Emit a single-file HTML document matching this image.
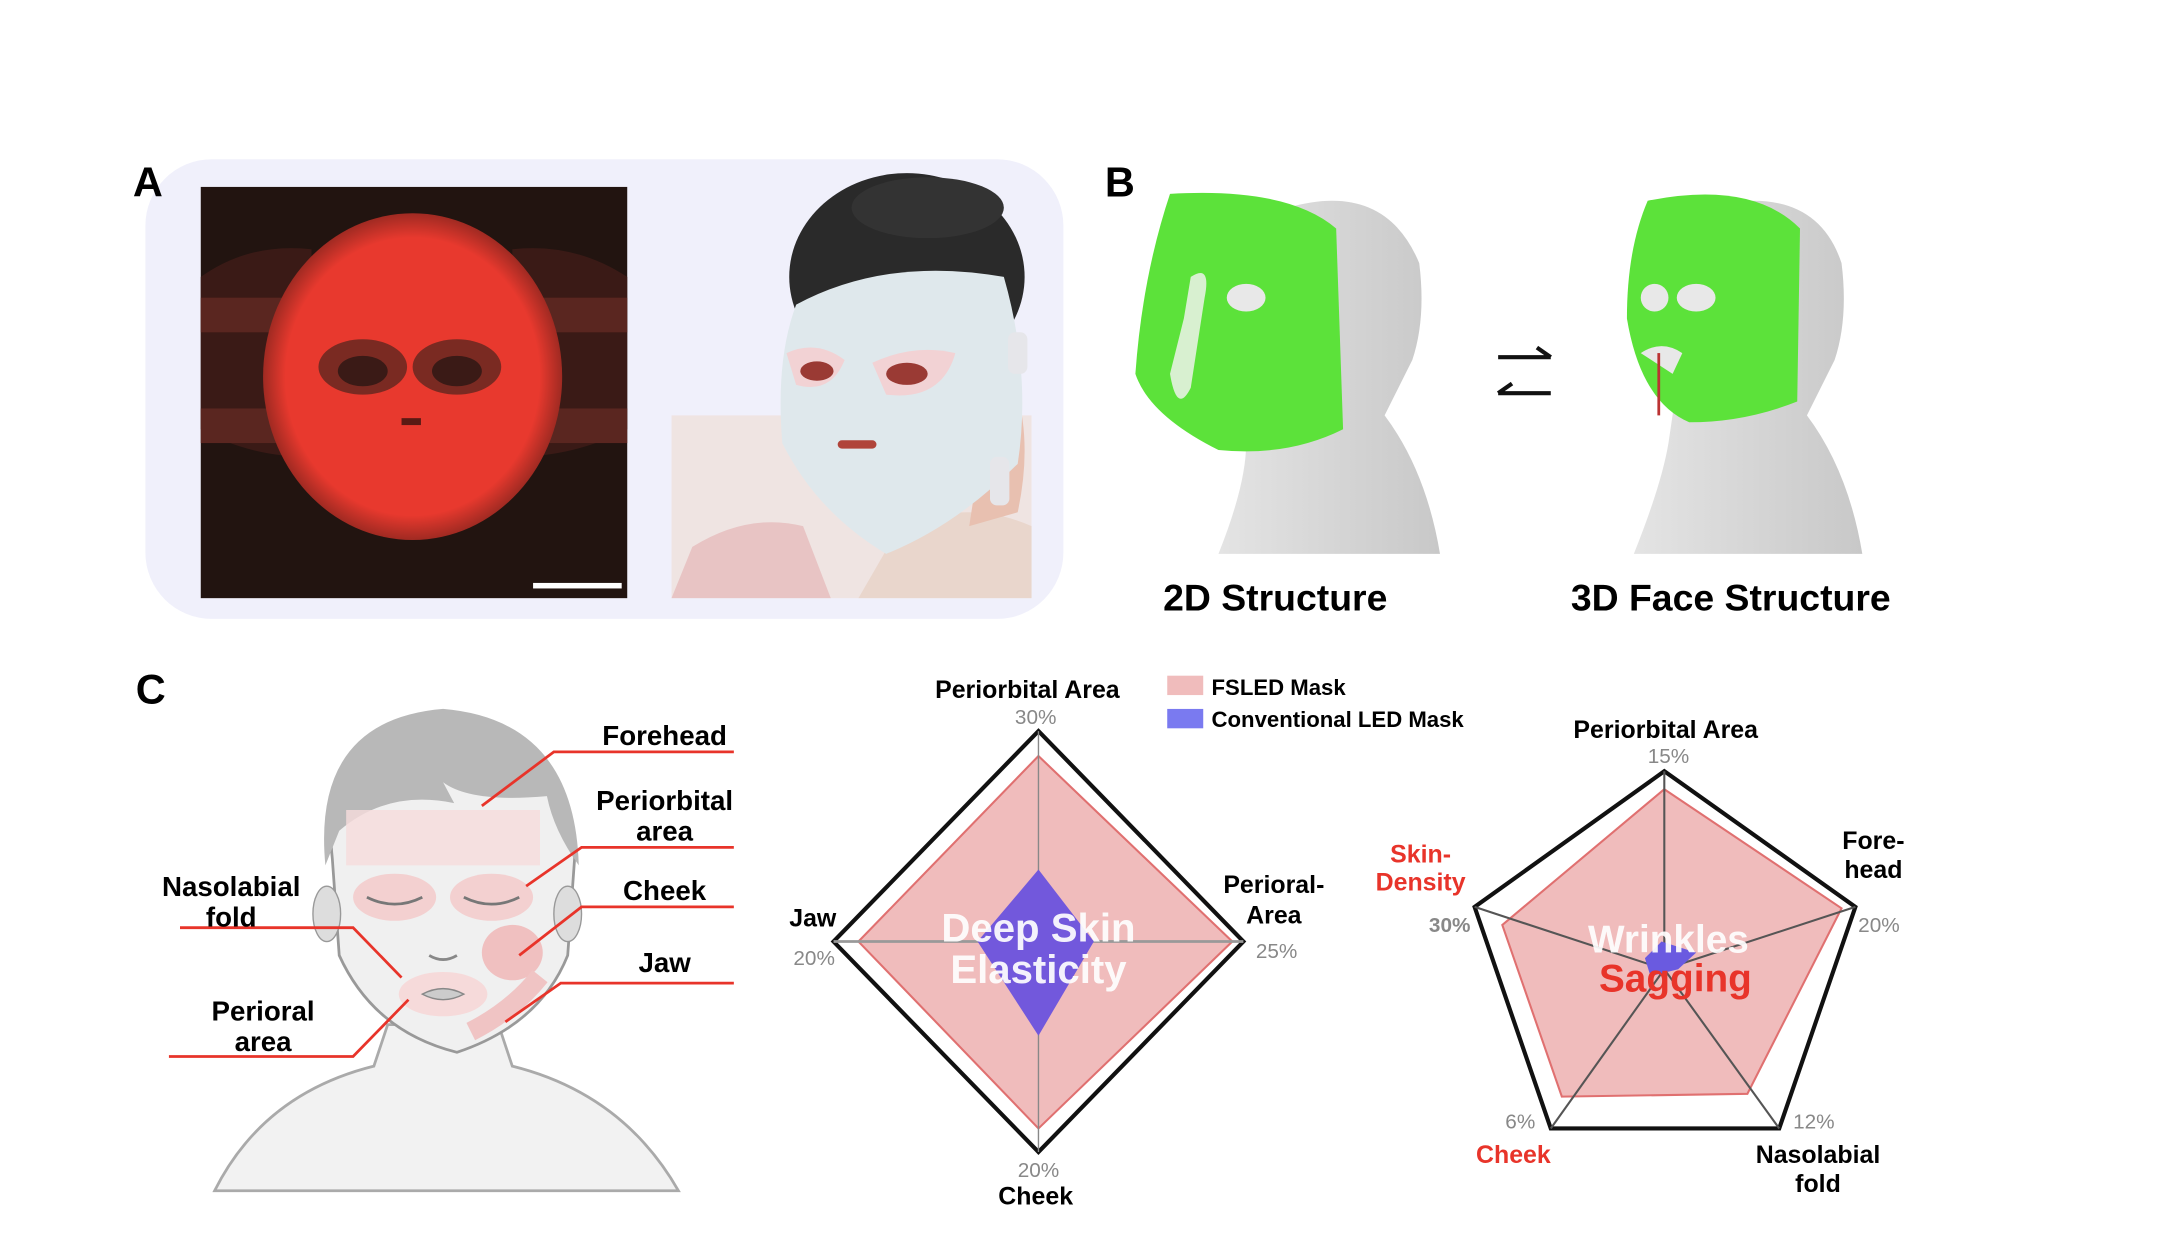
<!DOCTYPE html>
<html><head><meta charset="utf-8"><style>
html,body{margin:0;padding:0;background:#fff;width:2170px;height:1260px;overflow:hidden}
svg{display:block}
text{font-family:"Liberation Sans",sans-serif;font-weight:bold}
</style></head><body>
<svg width="2170" height="1260" viewBox="0 0 1567 910" preserveAspectRatio="xMinYMin meet" xmlns="http://www.w3.org/2000/svg">
<defs>
<radialGradient id="glow" cx="50%" cy="50%" r="50%"><stop offset="0.85" stop-color="#e8392e"/><stop offset="1" stop-color="#a02a22"/></radialGradient>
<linearGradient id="hd" x1="0" y1="0" x2="1" y2="0"><stop offset="0" stop-color="#e4e4e4"/><stop offset="1" stop-color="#c8c8c8"/></linearGradient>
</defs>
<!-- Panel A -->
<rect x="105" y="115" width="663" height="332" rx="48" fill="#f0f0fb"/>
<text x="96" y="142" font-size="30">A</text>
<rect x="145" y="135" width="308" height="297" fill="#221410"/>
<path d="M145 200 Q180 175 225 180 L225 330 Q180 330 145 310Z" fill="#3a1a16"/>
<path d="M453 200 Q415 175 370 180 L370 330 Q415 330 453 310Z" fill="#3a1a16"/>
<rect x="145" y="215" width="80" height="25" fill="#5a2620"/>
<rect x="370" y="215" width="83" height="25" fill="#5a2620"/>
<rect x="145" y="295" width="80" height="25" fill="#5a2620"/>
<rect x="370" y="295" width="83" height="25" fill="#5a2620"/>
<ellipse cx="298" cy="272" rx="108" ry="118" fill="url(#glow)"/>
<ellipse cx="262" cy="265" rx="32" ry="20" fill="#7a2a22"/>
<ellipse cx="330" cy="265" rx="32" ry="20" fill="#7a2a22"/>
<ellipse cx="262" cy="268" rx="18" ry="11" fill="#3a1a16"/>
<ellipse cx="330" cy="268" rx="18" ry="11" fill="#3a1a16"/>
<rect x="290" y="302" width="14" height="5" fill="#5a1a14"/>
<rect x="385" y="421" width="64" height="4" fill="#fff"/>
<!-- woman -->
<rect x="485" y="300" width="260" height="132" fill="#efe4e2"/>
<path d="M485 432 L500 395 Q540 370 580 380 L600 432Z" fill="#e8c4c4"/>
<path d="M650 380 Q700 360 745 380 L745 432 L620 432Z" fill="#e9d6cc"/>
<ellipse cx="655" cy="200" rx="85" ry="75" fill="#2a2a2a"/>
<ellipse cx="670" cy="150" rx="55" ry="22" fill="#333"/>
<path d="M720 250 Q750 300 735 370 L700 380Z" fill="#e8c0b0"/>
<path d="M575 220 Q640 185 725 200 Q745 270 735 335 Q690 380 640 400 Q590 370 565 320 Q560 260 575 220Z" fill="#dfe8ec"/>
<path d="M568 255 Q590 245 610 260 Q600 285 575 278Z" fill="#f2d2d4"/>
<path d="M630 262 Q660 248 690 255 Q680 290 640 285Z" fill="#f2d2d4"/>
<ellipse cx="590" cy="268" rx="12" ry="7" fill="#9a3a34"/>
<ellipse cx="655" cy="270" rx="15" ry="8" fill="#9a3a34"/>
<rect x="605" y="318" width="28" height="6" rx="3" fill="#b0443a"/>
<rect x="728" y="240" width="14" height="30" rx="5" fill="#e6e6ea"/>
<rect x="715" y="330" width="14" height="35" rx="5" fill="#e6e6ea"/>
<!-- Panel B -->
<text x="798" y="142" font-size="30">B</text>
<g>
<path d="M930 150 Q1000 130 1025 190 Q1030 230 1020 260 L1000 300 Q1030 340 1040 400 L880 400 Q900 350 900 320 Z" fill="url(#hd)"/>
<path d="M845 140 Q930 135 965 165 L970 310 Q930 330 880 325 Q830 300 820 270 Q825 200 845 140Z" fill="#5ce23a"/>
<ellipse cx="900" cy="215" rx="14" ry="10" fill="#e8e8e8"/>
<path d="M855 230 L860 200 Q875 190 870 215 L860 280 Q850 300 845 270Z" fill="#d8f0d0"/>
</g>
<g>
<path d="M1230 150 Q1310 130 1330 190 Q1335 230 1325 260 L1305 300 Q1335 340 1345 400 L1180 400 Q1200 350 1205 320 Z" fill="url(#hd)"/>
<path d="M1190 145 Q1265 130 1300 165 L1298 290 Q1260 305 1220 305 Q1185 290 1175 230 Q1175 180 1190 145Z" fill="#5ce23a"/>
<ellipse cx="1225" cy="215" rx="14" ry="10" fill="#e8e8e8"/>
<ellipse cx="1195" cy="215" rx="10" ry="10" fill="#e8e8e8"/>
<path d="M1185 255 Q1200 245 1215 255 L1208 270Z" fill="#e8e8e8"/>
<line x1="1198" y1="255" x2="1198" y2="300" stroke="#b33" stroke-width="2"/>
</g>
<path d="M1082 258 L1120 258 M1110 251 L1120 258" stroke="#111" stroke-width="3" fill="none"/>
<path d="M1082 284 L1120 284 M1092 277 L1082 284" stroke="#111" stroke-width="3" fill="none"/>
<text x="921" y="441" font-size="27" text-anchor="middle">2D Structure</text>
<text x="1250" y="441" font-size="27" text-anchor="middle">3D Face Structure</text>
<!-- Panel C face -->
<text x="98" y="508" font-size="30">C</text>
<path d="M155 860 Q190 790 270 770 L280 740 L360 740 L370 770 Q450 790 490 860Z" fill="#f2f2f2" stroke="#aaa" stroke-width="2"/>
<path d="M240 620 Q230 530 320 515 Q410 520 415 620 L410 690 Q390 740 330 760 Q270 745 245 690Z" fill="#f0f0f0" stroke="#999" stroke-width="2"/>
<path d="M235 625 Q225 520 320 512 Q415 520 418 625 Q400 600 395 575 Q340 580 320 565 L328 580 Q280 570 245 600Z" fill="#b8b8b8"/>
<ellipse cx="236" cy="660" rx="10" ry="20" fill="#ddd" stroke="#999"/>
<ellipse cx="410" cy="660" rx="10" ry="20" fill="#ddd" stroke="#999"/>
<rect x="250" y="585" width="140" height="40" fill="#f6dcdc" opacity="0.8"/>
<ellipse cx="285" cy="648" rx="30" ry="17" fill="#f3d0d0"/>
<ellipse cx="355" cy="648" rx="30" ry="17" fill="#f3d0d0"/>
<path d="M265 648 Q285 658 305 648" stroke="#777" stroke-width="2" fill="none"/>
<path d="M335 648 Q355 658 375 648" stroke="#777" stroke-width="2" fill="none"/>
<ellipse cx="370" cy="688" rx="22" ry="20" fill="#f0c0c0"/>
<ellipse cx="320" cy="718" rx="32" ry="16" fill="#f6dada"/>
<path d="M305 718 Q320 710 335 718 Q320 726 305 718Z" fill="#ccc" stroke="#888"/>
<path d="M310 690 Q320 696 330 690" stroke="#888" stroke-width="2" fill="none"/>
<path d="M340 745 Q370 730 390 705" stroke="#f0c4c4" stroke-width="14" fill="none"/>
<g stroke="#e8342a" stroke-width="2" fill="none">
<path d="M530 543 L400 543 L348 582"/>
<path d="M530 612 L420 612 L380 640"/>
<path d="M530 655 L420 655 L375 690"/>
<path d="M530 710 L405 710 L365 738"/>
<path d="M130 670 L255 670 L290 706"/>
<path d="M122 763 L255 763 L295 722"/>
</g>
<g font-size="20" text-anchor="middle">
<text x="480" y="538">Forehead</text>
<text x="480" y="585">Periorbital</text><text x="480" y="607">area</text>
<text x="480" y="650">Cheek</text>
<text x="480" y="702">Jaw</text>
<text x="167" y="647">Nasolabial</text><text x="167" y="669">fold</text>
<text x="190" y="737">Perioral</text><text x="190" y="759">area</text>
</g>
<!-- Chart 1 -->
<polygon points="750,528 898,680 750,832 602,680" fill="#fff" stroke="#111" stroke-width="3"/>
<polygon points="750,546 890,680 750,815 620,680" fill="#f0bcbc" stroke="#e07070" stroke-width="1.5"/>
<line x1="750" y1="528" x2="750" y2="832" stroke="#888" stroke-width="1"/>
<line x1="602" y1="680" x2="898" y2="680" stroke="#999" stroke-width="2"/>
<polygon points="750,628 790,680 750,748 706,680" fill="#7258dc"/>
<text x="750" y="680" font-size="29" fill="#fff" text-anchor="middle" opacity="0.92">Deep Skin</text>
<text x="750" y="710" font-size="29" fill="#fff" text-anchor="middle" opacity="0.92">Elasticity</text>
<g font-size="18">
<text x="742" y="504" text-anchor="middle">Periorbital Area</text>
<text x="587" y="669" text-anchor="middle">Jaw</text>
<text x="920" y="645" text-anchor="middle">Perioral-</text><text x="920" y="667" text-anchor="middle">Area</text>
<text x="748" y="870" text-anchor="middle">Cheek</text>
</g>
<g font-size="15" fill="#888">
<text x="748" y="523" text-anchor="middle" style="font-weight:normal">30%</text>
<text x="588" y="697" text-anchor="middle" style="font-weight:normal">20%</text>
<text x="922" y="692" text-anchor="middle" style="font-weight:normal">25%</text>
<text x="750" y="850" text-anchor="middle" style="font-weight:normal">20%</text>
</g>
<rect x="843" y="488" width="26" height="14" fill="#f0bcbc"/>
<rect x="843" y="512" width="26" height="14" fill="#7a7af0"/>
<text x="875" y="502" font-size="16">FSLED Mask</text>
<text x="875" y="525" font-size="16">Conventional LED Mask</text>
<!-- Chart 2 -->
<polygon points="1202,557 1340,655 1285,815 1120,815 1065,655" fill="#fff" stroke="#111" stroke-width="3"/>
<polygon points="1202,570 1330,656 1262,790 1128,792 1085,668" fill="#f0bcbc" stroke="#e07070" stroke-width="1.5"/>
<g stroke="#555" stroke-width="1.5">
<line x1="1202" y1="700" x2="1202" y2="557"/><line x1="1202" y1="700" x2="1340" y2="655"/>
<line x1="1202" y1="700" x2="1285" y2="815"/><line x1="1202" y1="700" x2="1120" y2="815"/>
<line x1="1202" y1="700" x2="1065" y2="655"/>
</g>
<polygon points="1200,680 1225,688 1212,700 1192,705 1188,692" fill="#6a5ae0"/>
<text x="1205" y="688" font-size="28" fill="#fff" text-anchor="middle" opacity="0.92">Wrinkles</text>
<text x="1210" y="716" font-size="28" fill="#e8342a" text-anchor="middle">Sagging</text>
<g font-size="18">
<text x="1203" y="533" text-anchor="middle">Periorbital Area</text>
<text x="1353" y="613" text-anchor="middle">Fore-</text><text x="1353" y="634" text-anchor="middle">head</text>
<text x="1026" y="623" text-anchor="middle" fill="#e8342a">Skin-</text><text x="1026" y="643" text-anchor="middle" fill="#e8342a">Density</text>
<text x="1093" y="840" text-anchor="middle" fill="#e8342a">Cheek</text>
<text x="1313" y="840" text-anchor="middle">Nasolabial</text><text x="1313" y="861" text-anchor="middle">fold</text>
</g>
<g font-size="15" fill="#888">
<text x="1205" y="551" text-anchor="middle" style="font-weight:normal">15%</text>
<text x="1357" y="673" text-anchor="middle" style="font-weight:normal">20%</text>
<text x="1047" y="673" text-anchor="middle">30%</text>
<text x="1098" y="815" text-anchor="middle" style="font-weight:normal">6%</text>
<text x="1310" y="815" text-anchor="middle" style="font-weight:normal">12%</text>
</g>
</svg>
</body></html>
